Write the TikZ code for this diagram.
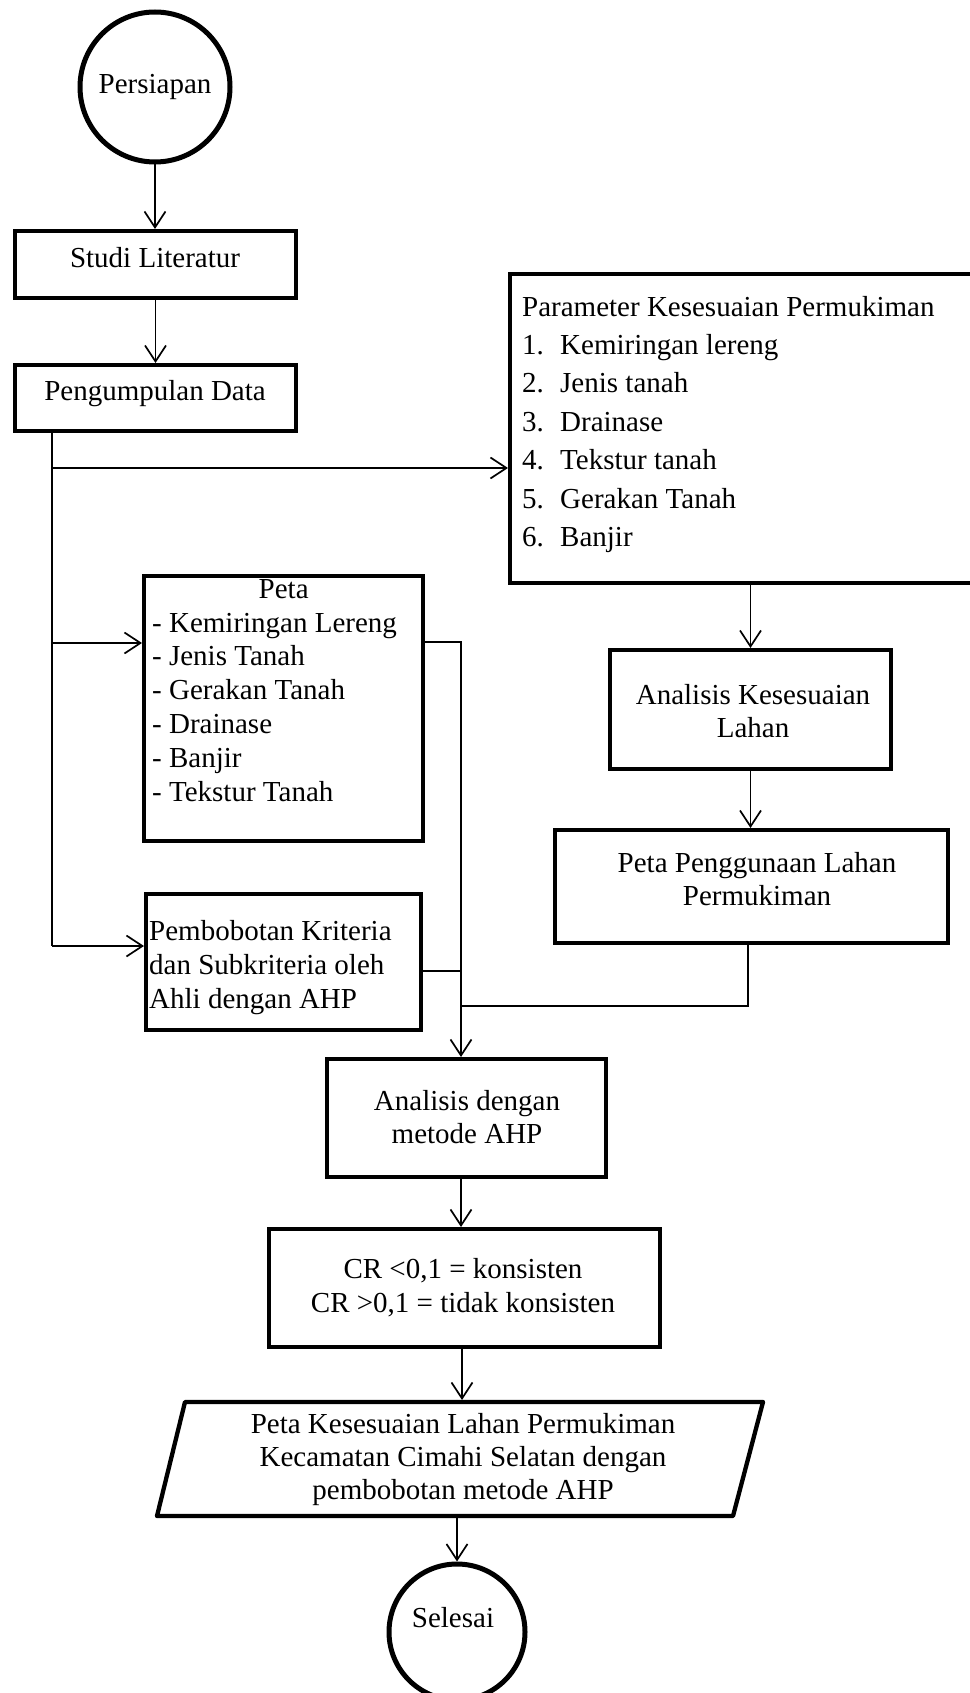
\documentclass[tikz,border=0pt]{standalone}
\usepackage{fontspec}
\setmainfont{Liberation Serif}
\usetikzlibrary{arrows.meta}
\begin{document}
\begin{tikzpicture}[x=1pt,y=-1pt,
  box/.style={draw,rectangle,line width=4.3pt,inner sep=0pt},
  term/.style={draw,circle,line width=5pt,inner sep=0pt,font={\fontsize{29}{33.5}\selectfont}},
  txt/.style={inner sep=0pt,anchor=north,align=center,font={\fontsize{29}{33.5}\selectfont}},
  ltxt/.style={inner sep=0pt,anchor=north west,align=left,font={\fontsize{29}{33.8}\selectfont}},
  conn/.style={line width=1.7pt},
  arr/.style={conn,-{Straight Barb[length=16pt,width=21pt]}}
]
\useasboundingbox (0,0) rectangle (969,1693);

% nodes
\node[term,minimum size=150pt] (persiapan) at (155,87) {Persiapan};
\node[box,minimum width=280.7pt,minimum height=66.7pt] (studi) at (155.5,264.5) {};
\node[txt] (tstudi) at (155,243.5) {\strut Studi Literatur};
\node[box,minimum width=280.7pt,minimum height=65.7pt] (peng) at (155.5,398) {};
\node[txt] (tpeng) at (155,376.5) {\strut Pengumpulan Data};

\node[box,minimum width=472.7pt,minimum height=308.7pt] (param) at (746.5,428.5) {};
\node[ltxt,font={\fontsize{29}{38.4}\selectfont}] (tparam) at (522,289.1) {\strut Parameter Kesesuaian Permukiman\\
\makebox[38pt][l]{1.}Kemiringan lereng\\
\makebox[38pt][l]{2.}Jenis tanah\\
\makebox[38pt][l]{3.}Drainase\\
\makebox[38pt][l]{4.}Tekstur tanah\\
\makebox[38pt][l]{5.}Gerakan Tanah\\
\makebox[38pt][l]{6.}Banjir};

\node[box,minimum width=278.7pt,minimum height=264.7pt] (peta) at (283.5,708.5) {};
\node[ltxt] (tpeta) at (152,574.4) {\strut\hbox to 263pt{\hfil Peta\hfil}\\
- Kemiringan Lereng\\
- Jenis Tanah\\
- Gerakan Tanah\\
- Drainase\\
- Banjir\\
- Tekstur Tanah};

\node[box,minimum width=274.7pt,minimum height=135.7pt] (pemb) at (283.5,962) {};
\node[ltxt,font={\fontsize{29}{34}\selectfont}] (tpemb) at (149,916.2) {\strut Pembobotan Kriteria\\dan Subkriteria oleh\\Ahli dengan AHP};

\node[box,minimum width=280.7pt,minimum height=118.7pt] (kes) at (750.5,709.5) {};
\node[txt,font={\fontsize{29}{33}\selectfont}] (tkes) at (753,680.9) {\strut Analisis Kesesuaian\\Lahan};

\node[box,minimum width=392.7pt,minimum height=112.7pt] (gun) at (751.5,886.5) {};
\node[txt,font={\fontsize{29}{33}\selectfont}] (tgun) at (757,848.9) {\strut Peta Penggunaan Lahan\\Permukiman};

\node[box,minimum width=278.7pt,minimum height=117.7pt] (ahp) at (466.5,1118) {};
\node[txt,font={\fontsize{29}{33}\selectfont}] (tahp) at (467,1086.9) {\strut Analisis dengan\\metode AHP};

\node[box,minimum width=390.7pt,minimum height=117.7pt] (cr) at (464.5,1288) {};
\node[txt,font={\fontsize{29}{34}\selectfont}] (tcr) at (463,1254.2) {\strut CR <0,1 = konsisten\\CR >0,1 = tidak konsisten};

% parallelogram
\coordinate (pTL) at (185,1402);
\coordinate (pTR) at (763,1402);
\coordinate (pBR) at (733,1516);
\coordinate (pBL) at (157,1516);
\draw[line width=4.3pt,line join=round] (pTL) -- (pTR) -- (pBR) -- (pBL) -- cycle;
\node[txt,font={\fontsize{29}{33}\selectfont}] (thasil) at (463,1409.9) {\strut Peta Kesesuaian Lahan Permukiman\\Kecamatan Cimahi Selatan dengan\\pembobotan metode AHP};
\coordinate (pT) at (462,1400);
\coordinate (pB) at (457,1518);

\node[term,minimum size=136pt] (selesai) at (457,1632) {};
\node[txt] (tselesai) at (453,1603.5) {\strut Selesai};

% helper coordinates
\coordinate (tx) at (52,0);
\coordinate (mx) at (461,0);
\coordinate (px) at (748,0);
\coordinate (b1) at (0,468);
\coordinate (b2) at (0,643);
\coordinate (b3) at (0,946);
\coordinate (r1) at (0,642);
\coordinate (r2) at (0,971);
\coordinate (r3) at (0,1006);

% connectors
\draw[arr] (persiapan.south) -- (persiapan.south |- studi.north);
\draw[arr] (studi.south) -- (studi.south |- peng.north);
\draw[conn] (peng.south -| tx) -- (tx |- b3);
\draw[arr] (tx |- b1) -- (param.west |- b1);
\draw[arr] (tx |- b2) -- (peta.west |- b2);
\draw[arr] (tx |- b3) -- (pemb.west |- b3);
\draw[arr] (peta.east |- r1) -- (mx |- r1) -- (mx |- ahp.north);
\draw[conn] (pemb.east |- r2) -- (mx |- r2);
\draw[arr] (param.south -| kes.north) -- (kes.north);
\draw[arr] (kes.south) -- (kes.south |- gun.north);
\draw[conn] (gun.south -| px) -- (px |- r3) -- (mx |- r3);
\draw[arr] (mx |- ahp.south) -- (mx |- cr.north);
\draw[arr] (cr.south -| pT) -- (pT);
\draw[arr] (pB) -- (pB |- selesai.north);
\end{tikzpicture}
\end{document}
